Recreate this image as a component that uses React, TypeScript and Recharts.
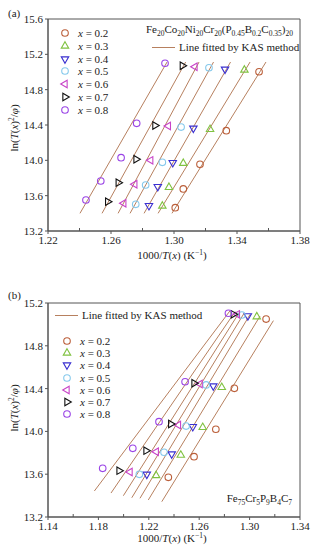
import React from 'react';
import { ComposedChart, Scatter, Line, XAxis, YAxis, ReferenceArea } from 'recharts';

type Pt = [number, number];
type Kind = 'circle' | 'up' | 'down' | 'left' | 'right';

const FONT = '"Liberation Serif", "Times New Roman", serif';
const AXIS = '#555';
const TEXT = '#222';

// legend order x = 0.2 ... 0.8
const xValues = ['0.2', '0.3', '0.4', '0.5', '0.6', '0.7', '0.8'];
const colors = ['#bb5f3a', '#80c241', '#3a2fd0', '#86c9ec', '#c844c8', '#111111', '#9a44e6'];
const kinds: Kind[] = ['circle', 'up', 'down', 'circle', 'left', 'right', 'circle'];
const fitColor = '#b7805f';

// (a) Fe20Co20Ni20Cr20(P0.45B0.2C0.35)20
const a02: Pt[] = [[1.3008, 13.464], [1.3059, 13.676], [1.3165, 13.955], [1.3332, 14.336], [1.354, 15.003]];
const a03: Pt[] = [[1.2926, 13.483], [1.2968, 13.695], [1.3059, 13.967], [1.3229, 14.351], [1.3447, 15.023]];
const a04: Pt[] = [[1.2841, 13.487], [1.2897, 13.702], [1.2992, 13.973], [1.3123, 14.363], [1.3324, 15.031]];
const a05: Pt[] = [[1.2757, 13.502], [1.282, 13.721], [1.2926, 13.978], [1.3045, 14.377], [1.3222, 15.048]];
const a06: Pt[] = [[1.2681, 13.514], [1.2751, 13.729], [1.2852, 14.0], [1.2964, 14.389], [1.3133, 15.06]];
const a07: Pt[] = [[1.2579, 13.532], [1.2646, 13.747], [1.2759, 14.012], [1.2879, 14.394], [1.3053, 15.071]];
const a08: Pt[] = [[1.2441, 13.551], [1.2535, 13.766], [1.2664, 14.03], [1.2763, 14.419], [1.2943, 15.099]];
// fitted line ends, same order
const aFitX0 = [1.2987, 1.2899, 1.281, 1.2721, 1.2645, 1.2543, 1.2403];
const aFitY0 = [13.4, 13.4, 13.4, 13.4, 13.4, 13.4, 13.4];
const aFitX1 = [1.3584, 1.3483, 1.3359, 1.3251, 1.3159, 1.3074, 1.2956];
const aFitY1 = [15.113, 15.113, 15.113, 15.113, 15.113, 15.113, 15.113];
const aXTicks = [1.22, 1.24, 1.26, 1.28, 1.3, 1.32, 1.34, 1.36, 1.38];
const aYTicks = [13.2, 13.6, 14.0, 14.4, 14.8, 15.2, 15.6];

// (b) Fe75Cr5P9B4C7
const b02: Pt[] = [[1.2355, 13.571], [1.2559, 13.764], [1.2732, 14.02], [1.2879, 14.403], [1.3131, 15.05]];
const b03: Pt[] = [[1.2258, 13.588], [1.2454, 13.779], [1.2628, 14.038], [1.2779, 14.412], [1.3057, 15.072]];
const b04: Pt[] = [[1.2184, 13.599], [1.2382, 13.789], [1.2549, 14.044], [1.2712, 14.424], [1.2986, 15.079]];
const b05: Pt[] = [[1.2125, 13.599], [1.2321, 13.805], [1.2496, 14.05], [1.2655, 14.434], [1.2938, 15.088]];
const b06: Pt[] = [[1.2051, 13.621], [1.2259, 13.81], [1.2435, 14.06], [1.2607, 14.443], [1.2903, 15.094]];
const b07: Pt[] = [[1.1964, 13.633], [1.2178, 13.82], [1.2374, 14.069], [1.2559, 14.45], [1.2871, 15.094]];
const b08: Pt[] = [[1.1834, 13.655], [1.2073, 13.842], [1.2281, 14.091], [1.2488, 14.464], [1.2832, 15.104]];
const bFitX0 = [1.2303, 1.2196, 1.213, 1.2065, 1.1998, 1.19, 1.1768];
const bFitY0 = [13.343, 13.359, 13.375, 13.38, 13.399, 13.424, 13.443];
const bFitX1 = [1.3189, 1.3083, 1.3004, 1.2956, 1.2919, 1.2885, 1.2845];
const bFitY1 = [15.035, 15.078, 15.094, 15.104, 15.113, 15.119, 15.128];
const bXTicks = [1.14, 1.16, 1.18, 1.2, 1.22, 1.24, 1.26, 1.28, 1.3, 1.32, 1.34];
const bYTicks = [13.2, 13.6, 14.0, 14.4, 14.8, 15.2];

function Marker({ kind, color, cx, cy }: { kind: Kind; color: string; cx: number; cy: number }) {
  if (kind === 'circle') {
    return <circle cx={cx} cy={cy} r={3.3} fill="none" stroke={color} strokeWidth={1.1} />;
  }
  const R = 4.3;
  const h = R * 0.866;
  let pts: number[][] = [];
  if (kind === 'up') pts = [[0, -R], [h, R / 2], [-h, R / 2]];
  if (kind === 'down') pts = [[0, R], [h, -R / 2], [-h, -R / 2]];
  if (kind === 'left') pts = [[-R, 0], [R / 2, -h], [R / 2, h]];
  if (kind === 'right') pts = [[R, 0], [-R / 2, -h], [-R / 2, h]];
  return (
    <polygon
      points={pts.map((p) => `${cx + p[0]},${cy + p[1]}`).join(' ')}
      fill="none"
      stroke={color}
      strokeWidth={1.1}
    />
  );
}

const XTick = (props: any) => {
  const { x, y, payload } = props;
  const v = payload.value as number;
  const major = Math.round(v * 100) % 4 === 2;
  return (
    <g>
      <line x1={x} x2={x} y1={y} y2={major ? y + 3 : y - 3} stroke={AXIS} />
      {major && (
        <text x={x} y={y + 13} textAnchor="middle" fontSize={11} fontFamily={FONT} fill={TEXT}>
          {v.toFixed(2)}
        </text>
      )}
    </g>
  );
};

const sub: React.CSSProperties = { fontSize: 7.5, position: 'relative', top: 3 };
const sup: React.CSSProperties = { fontSize: 7.5, position: 'relative', top: -4 };

function Txt({ x, y, anchor = 'start', children, style }: any) {
  const tx = anchor === 'start' ? '0' : anchor === 'middle' ? '-50%' : '-100%';
  return (
    <div
      style={{
        position: 'absolute',
        left: x,
        top: y,
        transform: `translate(${tx}, -50%)`,
        whiteSpace: 'nowrap',
        fontSize: 11,
        lineHeight: '12px',
        color: TEXT,
        ...style,
      }}
    >
      {children}
    </div>
  );
}

function LegendRows({ x, y0, step }: { x: number; y0: number; step: number }) {
  return (
    <>
      {xValues.map((v, i) => (
        <React.Fragment key={v}>
          <svg style={{ position: 'absolute', left: x - 6, top: y0 + i * step - 6 }} width={12} height={12}>
            <Marker kind={kinds[i]} color={colors[i]} cx={6} cy={6} />
          </svg>
          <Txt x={x + 13} y={y0 + i * step}>
            <i>x</i> = {v}
          </Txt>
        </React.Fragment>
      ))}
    </>
  );
}

function FitKey({ x, y }: { x: number; y: number }) {
  return (
    <>
      <div style={{ position: 'absolute', left: x, top: y, width: 23, height: 1, background: fitColor }} />
      <Txt x={x + 27} y={y}>Line fitted by KAS method</Txt>
    </>
  );
}

const YLabel = ({ x, y }: { x: number; y: number }) => (
  <div
    style={{
      position: 'absolute',
      left: x,
      top: y,
      transform: 'translate(-50%, -50%) rotate(-90deg)',
      whiteSpace: 'nowrap',
      fontSize: 11,
      lineHeight: '12px',
      color: TEXT,
    }}
  >
    ln(<i>T</i>(<i>x</i>)<span style={sup}>2</span>/<i>φ</i>)
  </div>
);

const XLabel = ({ x, y }: { x: number; y: number }) => (
  <Txt x={x} y={y} anchor="middle">
    1000/<i>T</i>(<i>x</i>) (K<span style={sup}>−1</span>)
  </Txt>
);

interface PanelProps {
  top: number;
  height: number;
  marginTop: number;
  axisHeight: number;
  series: Pt[][];
  fitX0: number[];
  fitY0: number[];
  fitX1: number[];
  fitY1: number[];
  xDomain: [number, number];
  yDomain: [number, number];
  xTicks: number[];
  yTicks: number[];
}

function Panel(p: PanelProps) {
  return (
    <div style={{ position: 'absolute', left: 0, top: p.top }}>
      <ComposedChart width={315} height={p.height} margin={{ top: p.marginTop, right: 15, bottom: 0, left: 0 }}>
        <XAxis
          type="number"
          dataKey="x"
          domain={p.xDomain}
          ticks={p.xTicks}
          interval={0}
          allowDataOverflow
          height={p.axisHeight}
          tickSize={0}
          tickMargin={0}
          tickLine={false}
          axisLine={{ stroke: AXIS }}
          tick={(t: any) => <XTick {...t} />}
        />
        <YAxis
          type="number"
          dataKey="y"
          domain={p.yDomain}
          ticks={p.yTicks}
          interval={0}
          allowDataOverflow
          width={48}
          tickSize={3}
          axisLine={{ stroke: AXIS }}
          tickLine={{ stroke: AXIS }}
          tick={{ fontSize: 11, fill: TEXT, fontFamily: FONT }}
          tickFormatter={(v: number) => v.toFixed(1)}
        />
        <ReferenceArea
          x1={p.xDomain[0]}
          x2={p.xDomain[1]}
          y1={p.yDomain[0]}
          y2={p.yDomain[1]}
          fill="none"
          stroke={AXIS}
          strokeWidth={1}
          ifOverflow="visible"
        />
        {p.fitX0.map((x0, i) => (
          <Line
            key={`fit${i}`}
            data={[
              { x: x0, y: p.fitY0[i] },
              { x: p.fitX1[i], y: p.fitY1[i] },
            ]}
            dataKey="y"
            stroke={fitColor}
            strokeWidth={1}
            dot={false}
            activeDot={false}
            isAnimationActive={false}
          />
        ))}
        {p.series.map((s, i) => (
          <Scatter
            key={`s${i}`}
            data={s.map(([x, y]) => ({ x, y }))}
            isAnimationActive={false}
            shape={(sp: any) => <Marker kind={kinds[i]} color={colors[i]} cx={sp.cx} cy={sp.cy} />}
          />
        ))}
      </ComposedChart>
    </div>
  );
}

export default function App() {
  return (
    <div
      style={{
        position: 'absolute',
        left: 0,
        top: 0,
        width: 315,
        height: 550,
        background: '#fff',
        fontFamily: FONT,
        overflow: 'hidden',
      }}
    >
      <Panel
        top={0}
        height={270}
        marginTop={19}
        axisHeight={39}
        series={[a02, a03, a04, a05, a06, a07, a08]}
        fitX0={aFitX0}
        fitY0={aFitY0}
        fitX1={aFitX1}
        fitY1={aFitY1}
        xDomain={[1.22, 1.38]}
        yDomain={[13.2, 15.6]}
        xTicks={aXTicks}
        yTicks={aYTicks}
      />
      <Panel
        top={280}
        height={270}
        marginTop={23}
        axisHeight={33}
        series={[b02, b03, b04, b05, b06, b07, b08]}
        fitX0={bFitX0}
        fitY0={bFitY0}
        fitX1={bFitX1}
        fitY1={bFitY1}
        xDomain={[1.14, 1.34]}
        yDomain={[13.2, 15.2]}
        xTicks={bXTicks}
        yTicks={bYTicks}
      />

      {/* panel (a) annotations */}
      <Txt x={8} y={13}>(a)</Txt>
      <YLabel x={15} y={128} />
      <XLabel x={172} y={256} />
      <LegendRows x={65} y0={33} step={12.8} />
      <Txt x={293} y={30} anchor="end">
        Fe<span style={sub}>20</span>Co<span style={sub}>20</span>Ni<span style={sub}>20</span>Cr
        <span style={sub}>20</span>(P<span style={sub}>0.45</span>B<span style={sub}>0.2</span>C
        <span style={sub}>0.35</span>)<span style={sub}>20</span>
      </Txt>
      <FitKey x={152} y={47} />

      {/* panel (b) annotations */}
      <Txt x={8} y={295}>(b)</Txt>
      <YLabel x={15} y={408} />
      <XLabel x={172} y={539} />
      <FitKey x={55} y={315} />
      <LegendRows x={67} y0={341} step={12.2} />
      <Txt x={292} y={499} anchor="end">
        Fe<span style={sub}>75</span>Cr<span style={sub}>5</span>P<span style={sub}>9</span>B
        <span style={sub}>4</span>C<span style={sub}>7</span>
      </Txt>
    </div>
  );
}
